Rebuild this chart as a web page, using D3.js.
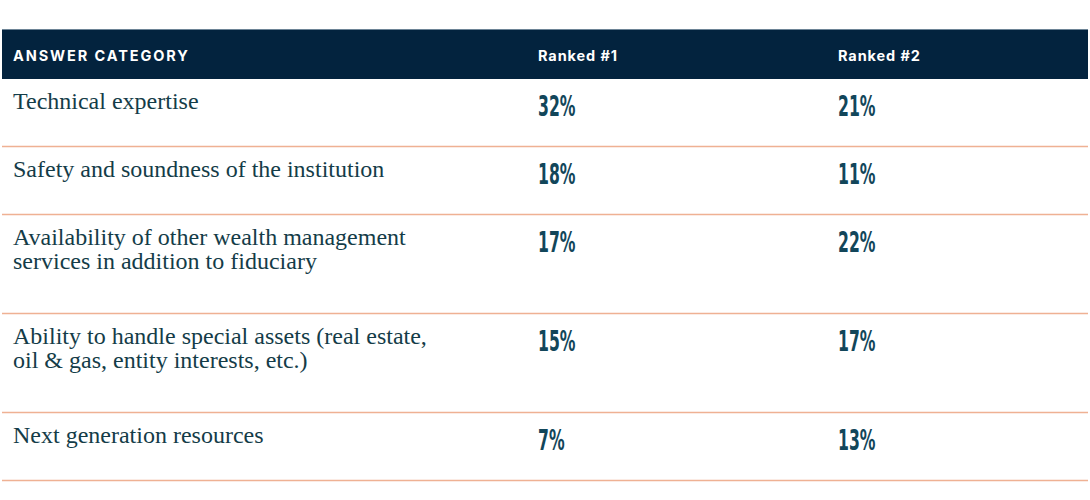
<!DOCTYPE html>
<html><head><meta charset="utf-8">
<script src="https://cdn.jsdelivr.net/npm/d3@7"></script>
<style>html,body{margin:0;padding:0;background:#fff;}svg{display:block;}</style>
</head><body>
<svg id="chart" width="1090" height="500"></svg>
<script>
// ---- data ----
const headers = ["ANSWER CATEGORY", "Ranked #1", "Ranked #2"];
const categories = [
  ["Technical expertise"],
  ["Safety and soundness of the institution"],
  ["Availability of other wealth management", "services in addition to fiduciary"],
  ["Ability to handle special assets (real estate,", "oil & gas, entity interests, etc.)"],
  ["Next generation resources"]
];
const ranked1 = [32, 18, 17, 15, 7];
const ranked2 = [21, 11, 22, 17, 13];

// ---- layout ----
const svg = d3.select("#chart");
const left = 2, right = 1088;
const headerTop = 29, headerH = 50;
const oneLineH = 68, extraLineH = 31;
const rowH = categories.map(c => oneLineH + extraLineH * (c.length - 1));
const rowTops = [headerTop + headerH, ...Array.from(d3.cumsum(rowH)).map(v => headerTop + headerH + v)];

const colX = d3.scaleOrdinal().domain([0, 1, 2]).range([13, 538, 838]);
const fmt = d3.format("d");

svg.append("rect").attr("x", left).attr("y", headerTop).attr("width", right - left).attr("height", headerH)
  .attr("fill", "#03233e");
svg.append("line").attr("x1", left).attr("x2", right).attr("y1", headerTop + 0.5).attr("y2", headerTop + 0.5)
  .attr("stroke", "#6d8496").attr("stroke-width", 1);

svg.selectAll("text.hdr").data(headers).join("text")
  .attr("class", "hdr")
  .attr("x", (d, i) => colX(i))
  .attr("y", headerTop + 32)
  .attr("fill", "#ffffff")
  .attr("font-family", "Inter, 'Noto Sans', sans-serif")
  .attr("font-weight", 700)
  .attr("font-size", (d, i) => i === 0 ? 14.5 : 14.5)
  .attr("letter-spacing", (d, i) => i === 0 ? 1.9 : 0.9)
  .text(d => d);

const rows = svg.selectAll("g.row").data(categories).join("g")
  .attr("class", "row")
  .attr("transform", (d, i) => `translate(0,${rowTops[i]})`);

rows.append("line")
  .attr("x1", left).attr("x2", right)
  .attr("y1", (d, i) => rowH[i] - 0.5).attr("y2", (d, i) => rowH[i] - 0.5)
  .attr("stroke", "#efb193").attr("stroke-width", 1.5);

rows.each(function(lines, i) {
  const g = d3.select(this);
  g.selectAll("text.lbl").data(lines).join("text")
    .attr("class", "lbl")
    .attr("x", colX(0))
    .attr("y", (d, j) => 30 + j * 24)
    .attr("fill", "#143c48")
    .attr("font-family", "'Liberation Serif', 'DejaVu Serif', serif")
    .attr("font-size", 24)
    .text(d => d);
  [ranked1[i], ranked2[i]].forEach((v, k) => {
    g.append("text")
      .attr("transform", `translate(${colX(k + 1)},${37}) scale(0.6,1)`)
      .attr("fill", "#12465a")
      .attr("font-family", "'DejaVu Sans Condensed', 'DejaVu Sans', sans-serif")
      .attr("font-weight", 700)
      .attr("font-size", 29)
      .text(fmt(v) + "%");
  });
});
</script>
</body></html>
